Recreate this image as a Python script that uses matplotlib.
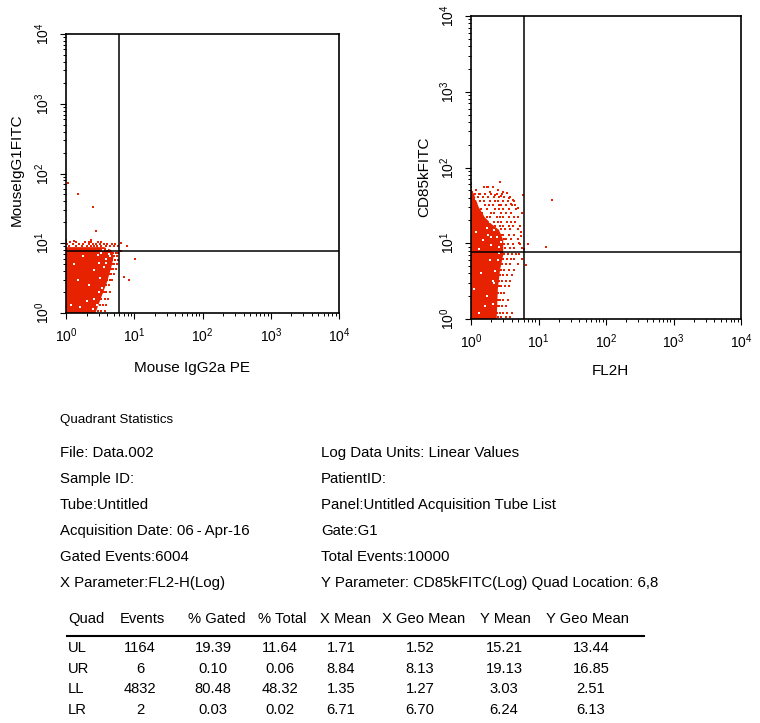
import matplotlib
matplotlib.use("Agg")
import matplotlib.pyplot as plt
from matplotlib.lines import Line2D

plt.rcParams["font.family"] = ["Liberation Sans", "DejaVu Sans"]
plt.rcParams["mathtext.fontset"] = "custom"
plt.rcParams["mathtext.rm"] = "Liberation Sans"
plt.rcParams["mathtext.it"] = "Liberation Sans"

RED = "#e62200"
W, H = 760, 723

# quadrant markers (Quad Location: 6,8)
quad_x, quad_y = 6, 7.7

# ---- left plot: Mouse IgG2a PE vs MouseIgG1FITC (isotype control) ----
# dense core of the event cloud, outline
left_core = [(1, 1), (1, 8.8), (3.6, 8.8), (4.6, 8.0), (5.0, 6.5), (4.6, 4.5),
             (4.0, 2.8), (3.3, 1.7), (2.7, 1)]
# sparse events around the core, row by row (y, then x values)
left_rows = [
    (10.5, [1.0, 1.15, 1.4, 1.9, 2.2, 2.35, 2.9, 3.3]),
    (9.6, [1.05, 1.25, 1.55, 1.8, 2.15, 2.45, 2.75, 3.1, 3.6, 4.0, 4.7, 5.3]),
    (9.0, [1.1, 1.4, 1.7, 2.0, 2.3, 2.6, 2.85, 3.3, 3.9, 4.4, 5.0, 5.7]),
    (7.2, [4.9, 5.4, 5.8]),
    (6.5, [5.0, 5.5]),
    (5.8, [4.8, 5.3, 5.8]),
    (5.0, [4.7, 5.1, 5.6]),
    (4.3, [4.5, 4.9, 5.4]),
    (3.6, [4.2, 4.6, 5.0]),
    (3.0, [4.0, 4.4, 4.8]),
    (2.5, [3.8, 4.2]),
    (2.0, [3.6, 3.9, 4.4]),
    (1.6, [3.3, 3.7, 4.1]),
    (1.3, [3.1, 3.5, 3.9]),
    (1.08, [2.9, 3.3, 3.7]),
]
left_outliers = [(1.06, 74), (1.48, 50), (2.46, 33), (2.78, 15), (2.3, 11.3),
                 (10.3, 5.9), (8.5, 3.0), (7.1, 3.3), (6.5, 10.2), (7.7, 9.2),
                 (6.3, 7.8), (1.0, 11.2), (1.3, 10.9)]
left_gaps = [(1.5, 3.0), (2.0, 1.5), (1.3, 5.0), (1.8, 6.5), (2.6, 4.2), (1.2, 1.3),
             (2.2, 2.5), (1.6, 1.2), (2.9, 6.8), (3.3, 7.3), (2.5, 1.15), (3.0, 5.2),
             (4.2, 7.0), (3.8, 6.0), (4.4, 6.6), (3.6, 4.5), (3.9, 5.2), (3.2, 3.2),
             (3.4, 2.3), (3.0, 2.0), (2.8, 1.3), (3.5, 7.9), (4.0, 8.3), (2.6, 1.6)]

# ---- right plot: FL2H vs CD85kFITC ----
right_core = [(1, 1), (1, 52), (1.1, 45), (1.3, 30), (1.6, 22), (2.0, 18),
              (2.6, 15), (3.0, 11), (3.0, 7.0), (2.7, 4.5), (2.5, 2.5), (2.4, 1)]
right_rows = [
    (45, [1.15, 1.35, 1.6, 2.0, 2.4, 2.9]),
    (41, [1.25, 1.5, 1.8, 2.2, 2.6, 3.1, 3.8]),
    (36, [1.1, 1.35, 1.55, 1.9, 2.3, 2.5, 3.0, 3.5, 4.4]),
    (32, [1.2, 1.6, 1.85, 2.1, 2.6, 2.8, 3.3, 4.1]),
    (28, [1.15, 1.4, 1.7, 2.3, 2.6, 3.0, 3.6, 4.6]),
    (25, [1.25, 1.45, 2.0, 2.2, 2.8, 3.3, 3.9]),
    (22, [1.7, 1.9, 2.4, 2.7, 3.0, 3.6, 4.3, 5.0]),
    (19, [2.2, 2.5, 2.8, 3.4, 3.9, 4.5]),
    (17, [2.3, 2.7, 3.0, 3.6, 4.2, 5.3]),
    (15.5, [2.8, 3.2, 3.8, 4.9]),
    (13, [2.8, 3.0, 3.6, 4.4]),
    (11.5, [3.1, 3.3, 3.9, 4.9]),
    (9.8, [3.1, 3.5, 4.2, 5.4]),
    (8.6, [3.2, 3.8, 4.4, 5.7]),
    (7.2, [3.1, 3.5, 4.0, 4.6, 5.1]),
    (6.2, [3.0, 3.4, 3.9, 4.4, 5.6]),
    (5.3, [2.9, 3.3, 3.8, 4.9]),
    (4.5, [2.8, 3.1, 3.7, 4.3]),
    (3.8, [2.7, 3.0, 3.4, 4.0]),
    (3.2, [2.6, 2.9, 3.3, 3.8]),
    (2.7, [2.6, 2.8, 3.2, 3.7]),
    (2.2, [2.5, 2.8, 3.1]),
    (1.8, [2.5, 2.7, 3.0, 3.5]),
    (1.5, [2.45, 2.6, 2.9, 3.3]),
    (1.2, [2.4, 2.7, 3.0, 3.4, 4.0]),
    (1.05, [2.5, 2.8, 3.3, 3.8]),
]
right_outliers = [
    (1.0, 62), (1.0, 55), (1.05, 48), (1.2, 50), (1.3, 45), (1.56, 56), (1.7, 56),
    (1.78, 55), (2.14, 56), (2.7, 64), (1.9, 47), (2.3, 44), (2.5, 50), (2.8, 42),
    (3.0, 47), (3.38, 46), (3.6, 40), (4.2, 37), (3.9, 33), (4.5, 32), (5.0, 29),
    (5.6, 25), (5.8, 43), (5.5, 14), (5.2, 10), (5.5, 12.5),
    (16, 37), (12.8, 8.9), (6.9, 9.8), (6.5, 5.2), (6.2, 8.3),
]
right_gaps = [(1.1, 2.5), (1.4, 4.0), (1.6, 1.5), (1.9, 6.0), (1.3, 8.5), (1.5, 11),
              (1.2, 14), (1.8, 13), (2.1, 3.2), (1.7, 2.0), (2.0, 9.5), (1.3, 1.2),
              (2.4, 12), (2.2, 15), (1.9, 19), (1.6, 24), (1.4, 30), (1.2, 38),
              (2.6, 9), (2.8, 10.5), (2.5, 6), (2.3, 4.3), (2.2, 3.0), (2.1, 1.6),
              (2.6, 7.5), (1.7, 16), (2.0, 12)]

# ---- quadrant statistics text ----
info_left = ["File: Data.002", "Sample ID:", "Tube:Untitled",
             "Acquisition Date: 06\u2009-\u2009Apr-16", "Gated Events:6004",
             "X Parameter:FL2-H(Log)"]
info_right = ["Log Data Units: Linear Values", "PatientID:",
              "Panel:Untitled Acquisition Tube List", "Gate:G1",
              "Total Events:10000", "Y Parameter: CD85kFITC(Log) Quad Location: 6,8"]
table_header = ["Quad", "Events", "% Gated", "% Total", "X Mean", "X Geo Mean",
                "Y Mean", "Y Geo Mean"]
quads = ["UL", "UR", "LL", "LR"]
events = ["1164", "6", "4832", "2"]
pct_gated = ["19.39", "0.10", "80.48", "0.03"]
pct_total = ["11.64", "0.06", "48.32", "0.02"]
x_mean = ["1.71", "8.84", "1.35", "6.71"]
x_geo = ["1.52", "8.13", "1.27", "6.70"]
y_mean = ["15.21", "19.13", "3.03", "6.24"]
y_geo = ["13.44", "16.85", "2.51", "6.13"]


def fx(px):
    return px / W


def fy(py):
    return 1 - py / H


def dot_plot(ax, core, rows, outliers, gaps, xlabel, ylabel, xl_pos, yl_pos):
    ax.set_xscale("log")
    ax.set_yscale("log")
    ax.set_xlim(1, 1e4)
    ax.set_ylim(1, 1e4)
    cx, cy = zip(*core)
    ax.fill(cx, cy, color=RED, lw=0)
    pts = [(x, y) for y, xs in rows for x in xs] + list(outliers)
    px_, py_ = zip(*pts)
    ax.scatter(px_, py_, s=4.4, marker="s", color=RED, lw=0)
    gx, gy = zip(*gaps)
    ax.scatter(gx, gy, s=1.8, marker="s", color="white", lw=0)
    ax.axvline(quad_x, color="black", lw=1.1)
    ax.axhline(quad_y, color="black", lw=1.1)
    for sp in ax.spines.values():
        sp.set_linewidth(1.2)
    ax.tick_params(which="major", direction="out", length=4, width=0.8,
                   labelsize=10, pad=6)
    ax.tick_params(which="minor", direction="out", length=2.3, width=0.7)
    ax.tick_params(axis="y", labelrotation=90)
    for lab in ax.get_yticklabels():
        lab.set_va("center")
    ax.set_xlabel(xlabel, fontsize=11, va="center")
    ax.set_ylabel(ylabel, fontsize=11, va="center", ha="center")
    ax.xaxis.set_label_coords(*xl_pos)
    ax.yaxis.set_label_coords(*yl_pos)


fig = plt.figure(figsize=(W / 100, H / 100), dpi=100)
ax1 = fig.add_axes([fx(66), fy(313), 273 / W, 279 / H])
ax2 = fig.add_axes([fx(471), fy(319), 270 / W, 303 / H])

dot_plot(ax1, left_core, left_rows, left_outliers, left_gaps,
         "Mouse IgG2a PE", "MouseIgG1FITC", (0.46, -0.197), (-0.179, 0.513))
dot_plot(ax2, right_core, right_rows, right_outliers, right_gaps,
         "FL2H", "CD85kFITC", (0.515, -0.171), (-0.174, 0.47))

fig.text(fx(60), fy(420), "Quadrant Statistics", fontsize=9.6, va="center")
for i, (a, b) in enumerate(zip(info_left, info_right)):
    y = fy(453 + 26 * i)
    fig.text(fx(60), y, a, fontsize=10.8, va="center")
    fig.text(fx(321), y, b, fontsize=10.8, va="center")

header_x = [68, 120, 188, 258, 320, 382, 480, 546]
for h, x in zip(table_header, header_x):
    fig.text(fx(x), fy(619), h, fontsize=10.6, va="center")
fig.add_artist(Line2D([fx(67), fx(644)], [fy(636), fy(636)], color="black", lw=1.5))

col_cx = [140, 213, 280, 341, 420, 504, 591]
columns = [events, pct_gated, pct_total, x_mean, x_geo, y_mean, y_geo]
row_y = [648, 669, 689, 710]
for r, q in enumerate(quads):
    fig.text(fx(68), fy(row_y[r]), q, fontsize=10.6, va="center")
    for col, x in zip(columns, col_cx):
        fig.text(fx(x), fy(row_y[r]), col[r], fontsize=10.6, va="center", ha="center")

fig.savefig("out.png", dpi=100)
